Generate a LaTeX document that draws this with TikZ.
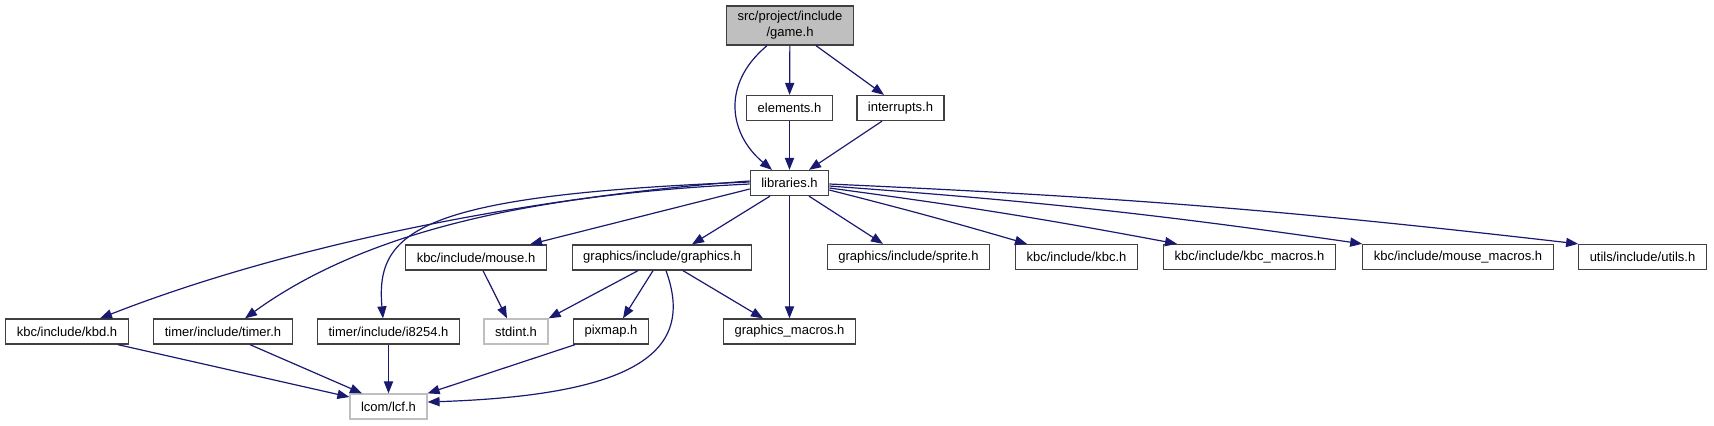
\documentclass[tikz,border=0pt]{standalone}
\usepackage{fontspec}
\setmainfont{Liberation Sans}
\usetikzlibrary{arrows.meta}
\definecolor{myedge}{rgb}{0.098,0.098,0.44}
\definecolor{myborder}{rgb}{0.25,0.25,0.25}
\definecolor{mygray}{rgb}{0.75,0.75,0.75}

\begin{document}
\begin{tikzpicture}[x=0.5pt,y=-0.5pt,
  filebox/.style={draw=myborder,line width=0.65pt,fill=white,inner xsep=5.5pt,inner ysep=1pt,
    minimum height=12.5pt,font=\fontsize{6.5pt}{8pt}\selectfont},
  rootbox/.style={filebox,fill=mygray,align=center,minimum height=19.5pt},
  extbox/.style={filebox,draw=mygray},
  dep/.style={myedge,line width=0.6pt,-{Triangle[length=6pt,width=4.6pt]}}]
  \useasboundingbox (0,0) rectangle (1714,425);
  % first rows
  \node[rootbox] (game) at (790,25.5) {src/project/include\\/game.h};
  \node[filebox] (elements) at (789.5,108) {elements.h};
  \node[filebox] (interrupts) at (900.5,108) {interrupts.h};
  \node[filebox] (libraries) at (789.5,183) {libraries.h};
  % middle row
  \node[filebox] (mouse) at (476,257.5) {kbc/include/mouse.h};
  \node[filebox] (graphics) at (662,257.5) {graphics/include/graphics.h};
  \node[filebox] (sprite) at (908.5,257) {graphics/include/sprite.h};
  \node[filebox] (kbc) at (1076.5,257) {kbc/include/kbc.h};
  \node[filebox] (kbcmacros) at (1249.5,257) {kbc/include/kbc\_macros.h};
  \node[filebox] (mousemacros) at (1458,257) {kbc/include/mouse\_macros.h};
  \node[filebox] (utils) at (1642.5,257) {utils/include/utils.h};
  % bottom rows
  \node[filebox] (kbd) at (67,331.5) {kbc/include/kbd.h};
  \node[filebox] (timer) at (223,331.5) {timer/include/timer.h};
  \node[filebox] (i8254) at (388.5,331.5) {timer/include/i8254.h};
  \node[extbox] (stdint) at (516,331.5) {stdint.h};
  \node[filebox] (pixmap) at (611,331.5) {pixmap.h};
  \node[filebox] (gmacros) at (789.5,331.5) {graphics\_macros.h};
  \node[extbox] (lcf) at (388.5,406.5) {lcom/lcf.h};

  \draw[dep] ([xshift=-11.5pt]game.south) .. controls (720,85) and (730,135) .. ([xshift=-8.75pt]libraries.north);
  \draw[dep] (game) -- (elements);
  \draw[dep] ([xshift=13pt]game.south) -- ([xshift=-8.25pt]interrupts.north);
  \draw[dep] (elements) -- (libraries);
  \draw[dep] ([xshift=-9.25pt]interrupts.south) -- ([xshift=9.75pt]libraries.north);

  \draw[dep] ([yshift=1pt]libraries.west) .. controls (550,195) and (300,240) .. ([xshift=16.5pt]kbd.north);
  \draw[dep] ([yshift=-0.5pt]libraries.west) .. controls (520,195) and (360,235) .. ([xshift=11pt]timer.north);
  \draw[dep] ([yshift=0.5pt]libraries.west) .. controls (420,195) and (375,230) .. ([xshift=-2.75pt]i8254.north);
  \draw[dep] ([yshift=-3pt]libraries.west) -- ([xshift=27pt]mouse.north);
  \draw[dep] ([xshift=-9.75pt]libraries.south) -- ([xshift=15pt]graphics.north);
  \draw[dep] (libraries) -- (gmacros);
  \draw[dep] ([xshift=9.75pt]libraries.south) -- ([xshift=-12.75pt]sprite.north);
  \draw[dep] ([yshift=-3.5pt]libraries.east) to[bend left=1] ([xshift=-24.75pt]kbc.north);
  \draw[dep] ([yshift=-2.5pt]libraries.east) to[bend left=1.5] ([xshift=-36.25pt]kbcmacros.north);
  \draw[dep] ([yshift=-1.5pt]libraries.east) to[bend left=2] (mousemacros.north west);
  \draw[dep] ([yshift=-0.5pt]libraries.east) to[bend left=2] (utils.north west);

  \draw[dep] ([xshift=3.5pt]mouse.south) -- ([xshift=-4.5pt]stdint.north);
  \draw[dep] ([xshift=-12pt]graphics.south) -- (stdint.north east);
  \draw[dep] ([xshift=-4.5pt]graphics.south) -- ([xshift=6pt]pixmap.north);
  \draw[dep] ([xshift=10.5pt]graphics.south) -- ([xshift=-13.25pt]gmacros.north);
  \draw[dep] ([xshift=2pt]graphics.south) .. controls (695,350) and (640,395) .. ([yshift=2.25pt]lcf.east);

  \draw[dep] ([xshift=25.5pt]kbd.south) -- ([yshift=4.75pt]lcf.west);
  \draw[dep] ([xshift=13.5pt]timer.south) -- ([xshift=-13.25pt]lcf.north);
  \draw[dep] (i8254) -- (lcf);
  \draw[dep] ([xshift=-18pt]pixmap.south) -- (lcf.north east);
\end{tikzpicture}
\end{document}
